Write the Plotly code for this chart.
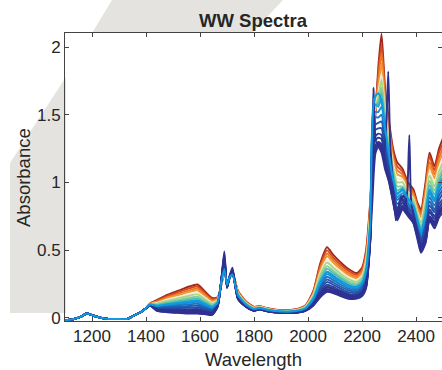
import plotly.graph_objects as go

# ---------------- data ----------------
wl_head = [1100, 1130, 1160, 1180, 1200, 1230, 1260, 1300, 1330, 1360, 1380, 1400]
head_values = [-0.02, -0.012, 0.008, 0.03, 0.018, 0.0, -0.01, -0.01, -0.01, 0.02, 0.04, 0.07]

wavelength = [1415, 1440, 1480, 1520, 1560, 1590, 1620, 1645, 1665, 1680, 1690, 1700, 1710,
              1720, 1740, 1770, 1800, 1820, 1850, 1900, 1950, 1990, 2020, 2045, 2070, 2095,
              2120, 2150, 2180, 2200, 2215, 2230, 2245, 2260, 2272, 2285, 2300, 2315, 2330,
              2350, 2370, 2390, 2405, 2418, 2435, 2450, 2468, 2485, 2500]

spec_100 = [.105, .13, .17, .20, .23, .245, .19, .145, .15, .25, .33, .27, .29, .34, .20, .12, .08, .085, .07, .055, .06, .09, .20, .40, .52, .46, .41, .36, .33, .37, .50, .85, 1.35, 1.85, 2.10, 1.70, 1.45, 1.25, 1.15, 1.10, 1.00, .95, .85, .80, 1.00, 1.22, 1.12, 1.25, 1.33]
spec_093 = [.104, .124, .161, .188, .216, .230, .178, .136, .145, .254, .338, .267, .29, .34, .196, .117, .078, .083, .068, .054, .058, .087, .192, .383, .497, .440, .393, .345, .317, .355, .48, .829, 1.40, 1.80, 2.02, 1.66, 1.42, 1.22, 1.12, 1.08, .98, .93, .83, .78, .97, 1.19, 1.09, 1.22, 1.29]
spec_086 = [.103, .119, .152, .177, .202, .215, .167, .128, .14, .257, .347, .263, .29, .335, .192, .114, .076, .082, .067, .052, .057, .084, .185, .365, .474, .421, .375, .329, .303, .341, .461, .808, 1.44, 1.75, 1.96, 1.62, 1.39, 1.19, 1.09, 1.06, .97, .92, .82, .76, .94, 1.15, 1.06, 1.18, 1.26]
spec_080 = [.102, .114, .144, .167, .19, .202, .157, .12, .136, .26, .354, .26, .29, .335, .188, .112, .074, .08, .065, .051, .055, .082, .178, .35, .454, .404, .36, .316, .292, .328, .444, .79, 1.47, 1.70, 1.88, 1.58, 1.36, 1.17, 1.06, 1.04, .95, .90, .80, .74, .91, 1.12, 1.03, 1.15, 1.22]
spec_072 = [.10, .108, .134, .154, .174, .185, .144, .11, .13, .264, .364, .256, .295, .33, .183, .109, .072, .078, .063, .049, .053, .079, .169, .33, .428, .382, .34, .298, .277, .311, .422, .766, 1.50, 1.66, 1.80, 1.53, 1.32, 1.14, 1.03, 1.02, .93, .88, .78, .72, .88, 1.08, 1.00, 1.11, 1.18]
spec_066 = [.10, .103, .126, .144, .162, .172, .134, .103, .126, .267, .371, .253, .295, .33, .18, .106, .07, .077, .062, .048, .052, .076, .163, .315, .408, .365, .325, .285, .265, .299, .405, .748, 1.52, 1.63, 1.76, 1.50, 1.30, 1.11, 1.00, 1.00, .92, .87, .77, .70, .85, 1.05, .97, 1.08, 1.15]
spec_058 = [.099, .096, .115, .131, .146, .155, .121, .093, .121, .271, .38, .249, .30, .33, .175, .103, .067, .075, .06, .047, .05, .073, .154, .295, .381, .342, .305, .268, .25, .282, .382, .724, 1.55, 1.60, 1.70, 1.46, 1.26, 1.08, .97, .97, .90, .85, .75, .67, .82, 1.01, .94, 1.04, 1.11]
spec_052 = [.098, .092, .108, .121, .134, .142, .111, .085, .116, .274, .388, .246, .30, .33, .171, .101, .066, .073, .058, .045, .048, .071, .147, .28, .362, .326, .29, .254, .239, .269, .366, .706, 1.57, 1.58, 1.66, 1.42, 1.23, 1.06, .94, .96, .88, .83, .73, .66, .79, .98, .91, 1.01, 1.08]
spec_046 = [.097, .087, .10, .111, .122, .129, .101, .078, .112, .277, .395, .243, .30, .33, .168, .098, .064, .072, .057, .044, .047, .068, .141, .265, .342, .309, .275, .241, .227, .257, .349, .688, 1.58, 1.56, 1.62, 1.39, 1.21, 1.03, .92, .94, .87, .82, .72, .64, .76, .95, .88, .99, 1.04]
spec_040 = [.096, .082, .092, .101, .11, .116, .091, .07, .108, .28, .402, .24, .30, .33, .164, .096, .062, .07, .055, .043, .045, .066, .134, .25, .322, .292, .26, .228, .216, .244, .332, .67, 1.52, 1.52, 1.56, 1.35, 1.18, 1.01, .89, .92, .85, .80, .70, .62, .74, .92, .86, .96, 1.01]
spec_034 = [.095, .077, .084, .091, .098, .103, .081, .063, .104, .283, .409, .237, .30, .33, .16, .094, .06, .069, .054, .042, .044, .064, .127, .235, .302, .275, .245, .215, .205, .231, .315, .652, 1.48, 1.48, 1.50, 1.31, 1.15, .99, .87, .90, .84, .79, .69, .60, .71, .89, .83, .93, .98]
spec_028 = [.094, .072, .076, .081, .086, .09, .071, .055, .10, .286, .416, .234, .30, .33, .157, .091, .058, .067, .052, .041, .042, .061, .121, .22, .282, .258, .23, .202, .193, .219, .298, .634, 1.42, 1.44, 1.45, 1.28, 1.13, .96, .84, .88, .82, .77, .67, .58, .68, .86, .80, .90, .95]
spec_022 = [.093, .068, .069, .071, .074, .077, .061, .048, .095, .289, .424, .231, .30, .335, .153, .089, .057, .066, .051, .039, .041, .059, .114, .205, .263, .242, .215, .188, .182, .206, .282, .616, 1.38, 1.40, 1.40, 1.24, 1.10, .94, .81, .87, .81, .76, .66, .57, .66, .83, .78, .87, .92]
spec_016 = [.092, .063, .061, .061, .062, .064, .051, .04, .091, .292, .431, .228, .30, .34, .15, .086, .055, .064, .049, .038, .039, .056, .108, .19, .243, .225, .20, .175, .17, .194, .265, .598, 1.33, 1.36, 1.35, 1.20, 1.07, .91, .79, .85, .79, .74, .64, .55, .63, .80, .75, .84, .88]
spec_011 = [.091, .059, .054, .053, .052, .054, .043, .034, .088, .295, .437, .226, .305, .345, .147, .084, .053, .063, .048, .037, .038, .054, .102, .178, .226, .211, .188, .164, .161, .183, .251, .583, 1.30, 1.33, 1.32, 1.17, 1.05, .89, .77, .83, .78, .73, .63, .53, .61, .78, .73, .81, .86]
spec_006 = [.09, .055, .048, .045, .042, .043, .035, .028, .084, .297, .443, .223, .305, .35, .144, .082, .052, .062, .047, .036, .037, .052, .097, .165, .21, .197, .175, .153, .151, .173, .237, .568, 1.26, 1.30, 1.28, 1.14, 1.03, .87, .75, .82, .77, .72, .62, .52, .59, .75, .71, .79, .83]
spec_002 = [.09, .052, .043, .038, .034, .034, .028, .023, .081, .299, .47, .221, .31, .355, .141, .081, .051, .061, .046, .035, .036, .051, .092, .155, .197, .186, .165, .144, .144, .164, .226, .556, 1.24, 1.28, 1.25, 1.12, 1.01, .86, .73, .81, .76, .71, .61, .51, .57, .73, .69, .77, .81]
spec_000 = [.09, .05, .04, .035, .03, .03, .025, .02, .08, .30, .49, .22, .31, .37, .14, .08, .05, .06, .045, .035, .035, .05, .09, .15, .19, .18, .16, .14, .14, .16, .22, .55, 1.22, 1.26, 1.22, 1.10, 1.00, .85, .72, .80, .75, .70, .60, .50, .56, .72, .68, .76, .80]

spec_colors = ['#a0281c', '#d24a1f', '#ec7424', '#f29536', '#eeeed2', '#a9d68b', '#88cc95',
               '#4fbcb0', '#22a5d3', '#1a8fd6', '#1a76c8', '#1f5fb5', '#2650a8', '#2b419e',
               '#2d3896', '#2e3392', '#2e3190', '#2e3190']

# noisy dark-blue spectra (tail part after 2230 nm)
spiky1_wl = [2236, 2242, 2252, 2265, 2280, 2300, 2315, 2330, 2345, 2360, 2368, 2375, 2382,
             2395, 2410, 2420, 2435, 2450, 2468, 2485, 2500]
spiky1_vals = [1.10, 1.70, 1.30, 1.28, 1.18, 1.04, .90, .76, .90, .82, .95, 1.35, .86, .72,
               .56, .50, .58, .74, .70, .78, .82]
spiky2_wl = [2238, 2250, 2265, 2280, 2290, 2297, 2304, 2315, 2325, 2340, 2355, 2370, 2390,
             2405, 2418, 2435, 2450, 2468, 2485, 2500]
spiky2_vals = [.85, 1.22, 1.28, 1.20, 1.45, 1.82, 1.30, .98, .72, .86, .90, .78, .70, .58,
               .48, .55, .72, .66, .74, .78]

# bright blue spectrum drawn on top
spec_top_blue = [.097, .086, .098, .108, .118, .125, .098, .076, .11, .278, .36, .242, .30, .32, .166, .097, .063, .071, .056, .044, .046, .067, .138, .26, .335, .303, .27, .237, .224, .252, .34, .68, 1.62, 1.66, 1.60, 1.40, 1.20, 1.02, .91, .95, .88, .83, .72, .63, .75, .94, .87, .97, 1.03]

x_ticks = [1200, 1400, 1600, 1800, 2000, 2200, 2400]
y_ticks = [0, 0.5, 1, 1.5, 2]
y_ticktext = ['0', '0.5', '1', '1.5', '2']

spectra = [spec_100, spec_093, spec_086, spec_080, spec_072, spec_066, spec_058, spec_052,
           spec_046, spec_040, spec_034, spec_028, spec_022, spec_016, spec_011, spec_006,
           spec_002, spec_000]

# ---------------- figure ----------------
W, H = 442, 370
ML, MR, MT, MB = 65, 0, 33, 49
PW, PH = W - ML - MR, H - MT - MB
FONT = 'Liberation Sans, Arial, Helvetica, sans-serif'
TXT = '#262626'
AX = '#444444'

fig = go.Figure()
line_style = dict(width=1.9, shape='spline', smoothing=0.6)

for vals, col in zip(spectra, spec_colors):
    fig.add_trace(go.Scatter(x=wl_head + wavelength, y=head_values + vals, mode='lines',
                             line=dict(color=col, **line_style), hoverinfo='skip', showlegend=False))

fig.add_trace(go.Scatter(x=wl_head + wavelength[:32] + spiky1_wl,
                         y=head_values + spec_011[:32] + spiky1_vals, mode='lines',
                         line=dict(color='#2e3190', **line_style), hoverinfo='skip', showlegend=False))
fig.add_trace(go.Scatter(x=wl_head + wavelength[:32] + spiky2_wl,
                         y=head_values + spec_006[:32] + spiky2_vals, mode='lines',
                         line=dict(color='#2e3190', **line_style), hoverinfo='skip', showlegend=False))
fig.add_trace(go.Scatter(x=wl_head + wavelength, y=head_values + spec_top_blue, mode='lines',
                         line=dict(color='#0f9be0', **line_style), hoverinfo='skip', showlegend=False))


def px(x):
    return (x - ML) / PW


def py(y):
    return (H - MB - y) / PH


top_band = [(112, 0), (283, 0), (252, 33), (92, 33)]
left_band = [(66, 77), (10, 163), (10, 313), (66, 313)]

for band in (top_band, left_band):
    xs = [px(a) for a, b in band]
    ys = [py(b) for a, b in band]
    path = 'M' + 'L'.join(f'{x:.4f},{y:.4f}' for x, y in zip(xs, ys)) + 'Z'
    fig.add_shape(type='path', path=path, xref='paper', yref='paper',
                  fillcolor='#e4e3df', line=dict(width=0), layer='below')

fig.update_layout(
    width=W, height=H,
    margin=dict(l=ML, r=MR, t=MT, b=MB, pad=0),
    plot_bgcolor='white', paper_bgcolor='white',
    showlegend=False,
    font=dict(family=FONT, color=TXT, size=17),
    xaxis=dict(range=[1100, 2496], tickvals=x_ticks, ticks='inside', ticklen=4,
               tickcolor=AX, tickwidth=1, showline=True, linecolor=AX, linewidth=1,
               mirror='ticks', showgrid=False, zeroline=False,
               tickfont=dict(family=FONT, size=17, color=TXT)),
    yaxis=dict(range=[-0.025, 2.105], tickvals=y_ticks, ticktext=y_ticktext,
               ticks='inside', ticklen=4, tickcolor=AX, tickwidth=1, showline=True,
               linecolor=AX, linewidth=1, mirror='ticks', showgrid=False, zeroline=False,
               tickfont=dict(family=FONT, size=17, color=TXT)),
    annotations=[
        dict(text='<b>WW Spectra</b>', x=0.5, y=py(21), xref='paper', yref='paper',
             showarrow=False, xanchor='center', yanchor='middle',
             font=dict(family=FONT, size=18.5, color=TXT)),
        dict(text='Wavelength', x=0.5, y=py(359), xref='paper', yref='paper',
             showarrow=False, xanchor='center', yanchor='middle',
             font=dict(family=FONT, size=18.5, color=TXT)),
        dict(text='Absorbance', x=px(23), y=py(178), xref='paper', yref='paper',
             showarrow=False, xanchor='center', yanchor='middle', textangle=-90,
             font=dict(family=FONT, size=18.5, color=TXT)),
    ],
)

fig.write_html('out.html')
